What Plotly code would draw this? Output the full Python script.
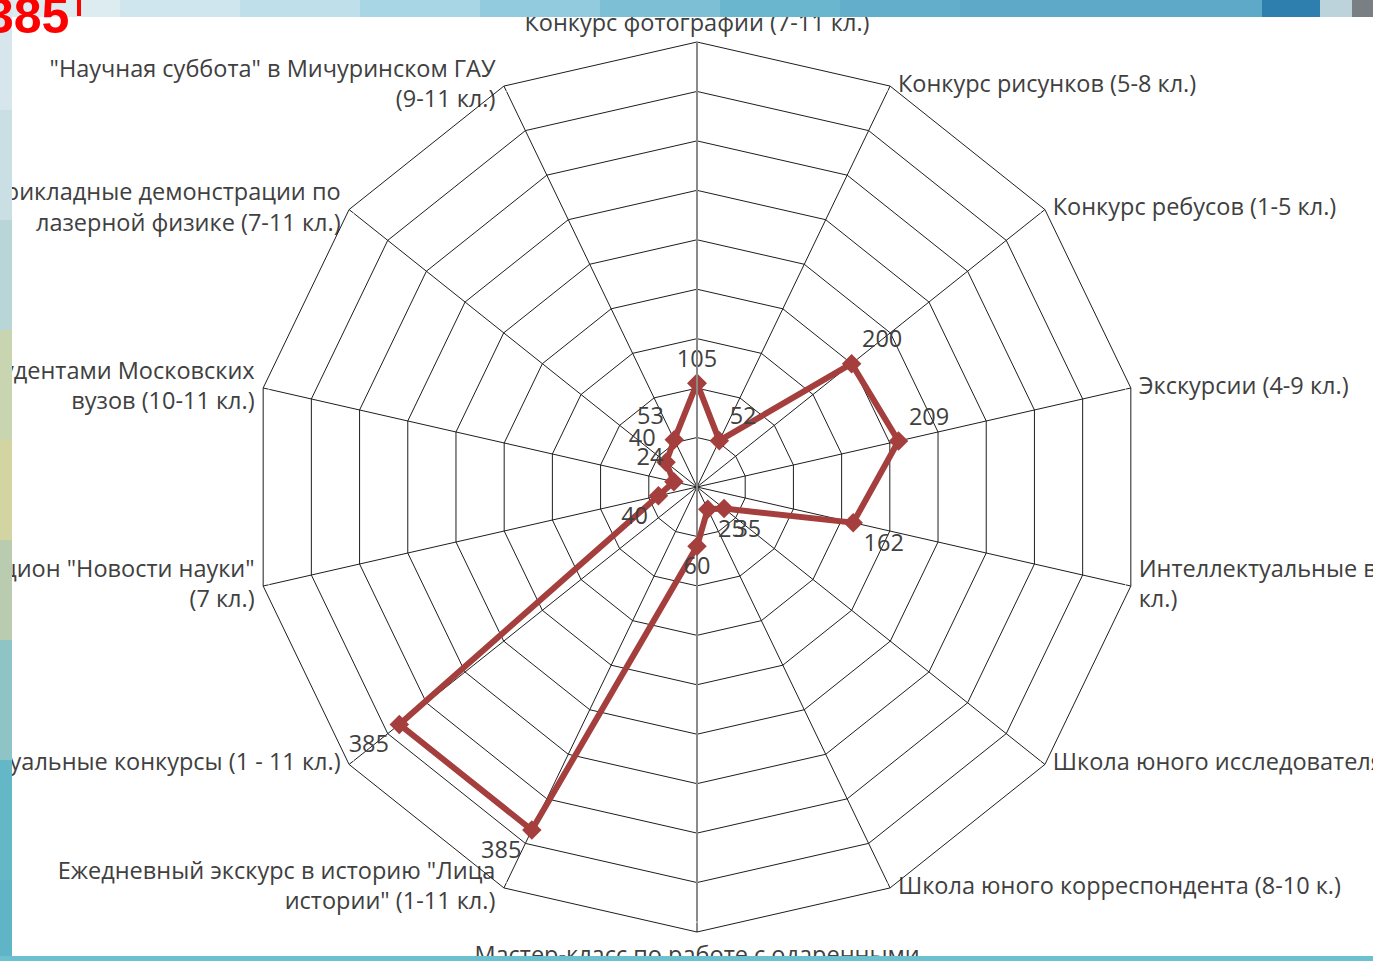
import plotly.graph_objects as go

categories = [
    "Конкурс фотографии (7-11 кл.)",
    "Конкурс рисунков (5-8 кл.)",
    "Конкурс ребусов (1-5 кл.)",
    "Экскурсии (4-9 кл.)",
    "Интеллектуальные викторины (5-11<br>кл.)",
    "Школа юного исследователя (5-11 кл.)",
    "Школа юного корреспондента (8-10 к.)",
    "Мастер-класс по работе с одаренными",
    "Ежедневный экскурс в историю \"Лица<br>истории\" (1-11 кл.)",
    "Виртуальные конкурсы (1 - 11 кл.)",
    "Интеллектуальный аукцион \"Новости науки\"<br>(7 кл.)",
    "Встречи со студентами Московских<br>вузов (10-11 кл.)",
    "Прикладные демонстрации по<br>лазерной физике (7-11 кл.)",
    "\"Научная суббота\" в Мичуринском ГАУ<br>(9-11 кл.)",
]
values = [105, 52, 200, 209, 162, 35, 25, 60, 385, 385, 40, 24, 40, 53]
label_pos = ["top center", "top right", "top right", "top right", "bottom right",
             "bottom right", "bottom right", "bottom center", "bottom left",
             "bottom left", "bottom left", "top left", "top left", "top left"]
cat_label_pos = ["top center", "middle right", "middle right", "middle right",
                 "middle right", "middle right", "middle right", "bottom center",
                 "middle left", "middle left", "middle left", "middle left",
                 "middle left", "middle left"]
radial_max = 450
radial_step = 50

LINE = "#A43F3D"
TXT = "#404040"
FONT = "Open Sans"
FS = 23.5

# invisible marker sizes that set the gap between each outer vertex and its label
cat_gap = [6, 11, 11, 11, 11, 11, 11, 20, 12, 12, 12, 12, 12, 12]

fig = go.Figure()
# vertical value-axis line through the bottom spoke (grey, like the reference)
fig.add_trace(go.Scatterpolar(
    r=[0, radial_max], theta=[categories[7], categories[7]], mode="lines",
    line=dict(color="#8a8a8a", width=2), showlegend=False, hoverinfo="skip",
))
# category labels placed at the outer ring, Excel-style
fig.add_trace(go.Scatterpolar(
    r=[radial_max] * len(categories), theta=categories, mode="markers+text",
    text=categories, textposition=cat_label_pos,
    textfont=dict(family=FONT, size=FS, color=TXT),
    marker=dict(size=cat_gap, color="rgba(0,0,0,0)"),
    showlegend=False, hoverinfo="skip", cliponaxis=False,
))
fig.add_trace(go.Scatterpolar(
    r=values + values[:1],
    theta=categories + categories[:1],
    mode="lines+markers+text",
    text=[str(v) for v in values] + [""],
    textposition=label_pos + ["top center"],
    textfont=dict(family=FONT, size=FS, color=TXT),
    line=dict(color=LINE, width=6),
    marker=dict(symbol="diamond", size=15, color=LINE),
    showlegend=False,
    cliponaxis=False,
))

W, H = 1373, 961
cx, cy, R = 697, 487, 445
fig.update_layout(
    width=W, height=H,
    margin=dict(l=0, r=0, t=0, b=0),
    paper_bgcolor="white",
    plot_bgcolor="white",
    polar=dict(
        domain=dict(x=[(cx - R) / W, (cx + R) / W], y=[(H - cy - R) / H, (H - cy + R) / H]),
        bgcolor="white",
        gridshape="linear",
        radialaxis=dict(range=[0, radial_max], dtick=radial_step, showticklabels=False,
                        ticks="", showline=True, linecolor="#8a8a8a", linewidth=2,
                        angle=90, gridcolor="#1e1e1e", gridwidth=1),
        angularaxis=dict(direction="clockwise", rotation=90, showline=True,
                         type="category", categoryorder="array", categoryarray=categories,
                         linecolor="#1e1e1e", linewidth=1, gridcolor="#1e1e1e",
                         gridwidth=1, ticks="", showticklabels=False),
    ),
)

# slide decoration bands (top, left, bottom)
top_cols = ["#dcecf1", "#cfe6ee", "#bfe0ea", "#a9d6e4", "#92cbdd", "#7dc0d6",
            "#6bb6cf", "#62aecb", "#5ea9c8", "#2f7fae", "#bcd3dc", "#7a7f84"]
top_edges = [0, 120, 240, 360, 480, 600, 720, 840, 960, 1262, 1320, 1352, 1373]
for i, c in enumerate(top_cols):
    fig.add_shape(type="rect", xref="paper", yref="paper", layer="above",
                  x0=top_edges[i] / W, x1=top_edges[i + 1] / W,
                  y0=1 - 17 / H, y1=1, fillcolor=c, line=dict(width=0))
left_cols = ["#d7e6ec", "#c9dfe4", "#b8d6d8", "#c8d5b0", "#d2d5a2", "#b9ccb0",
             "#8fc4c6", "#63b7c6", "#5fb4c6"]
left_edges = [0, 110, 220, 330, 440, 540, 640, 760, 880, 961]
for i, c in enumerate(left_cols):
    fig.add_shape(type="rect", xref="paper", yref="paper", layer="above",
                  x0=0, x1=12 / W, y0=1 - left_edges[i + 1] / H, y1=1 - left_edges[i] / H,
                  fillcolor=c, line=dict(width=0))
fig.add_shape(type="rect", xref="paper", yref="paper", layer="above",
              x0=0, x1=1, y0=0, y1=5 / H, fillcolor="#6cc0cf", line=dict(width=0))

fig.add_annotation(text="<b>385</b>", xref="paper", yref="paper", x=-16 / W,
                   y=1 - 46 / H, xanchor="left", yanchor="bottom", showarrow=False,
                   font=dict(family="Liberation Sans", size=50, color="#ff0000"))
fig.add_shape(type="rect", xref="paper", yref="paper", layer="above",
              x0=77 / W, x1=81 / W, y0=1 - 16 / H, y1=1, fillcolor="#ff0000",
              line=dict(width=0))

fig.write_html("out.html", config={"displayModeBar": False},
               post_script="document.body.style.margin='0';"
               "document.body.style.padding='0';")
